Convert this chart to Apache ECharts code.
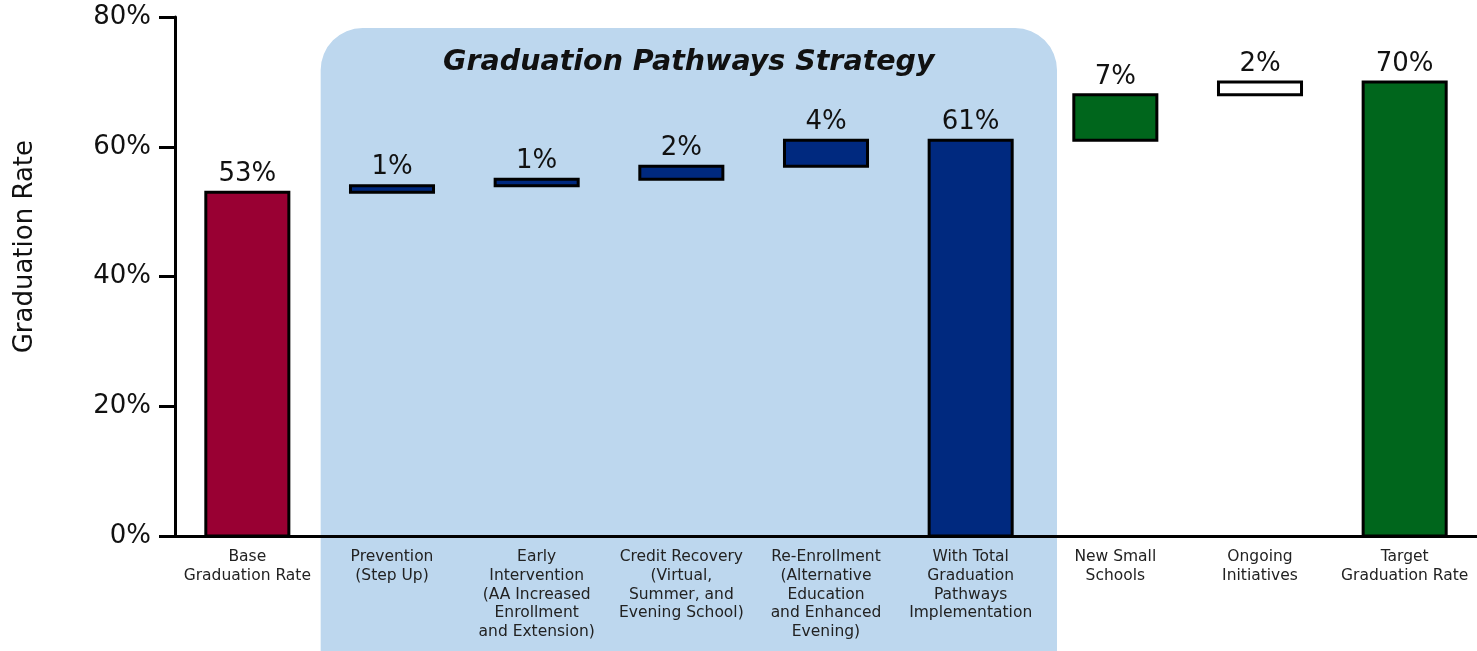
<!DOCTYPE html>
<html>
<head>
<meta charset="utf-8">
<title>Graduation Rate</title>
<script src="https://cdn.jsdelivr.net/npm/echarts@6/dist/echarts.min.js"></script>
<style>
  html, body { margin: 0; padding: 0; background: #ffffff; }
  #chart { width: 1477px; height: 651px; }
</style>
</head>
<body>
<div id="chart"></div>
<script>
// Categories along the x axis (line breaks as shown under each bar)
const categories = [
  'Base\nGraduation Rate',
  'Prevention\n(Step Up)',
  'Early\nIntervention\n(AA Increased\nEnrollment\nand Extension)',
  'Credit Recovery\n(Virtual,\nSummer, and\nEvening School)',
  'Re-Enrollment\n(Alternative\nEducation\nand Enhanced\nEvening)',
  'With Total\nGraduation\nPathways\nImplementation',
  'New Small\nSchools',
  'Ongoing\nInitiatives',
  'Target\nGraduation Rate'
];

// Value of each bar, in percent: totals start at zero, steps add to the running rate
const values = [53, 1, 1, 2, 4, 61, 7, 2, 70];
const kinds = ['total', 'step', 'step', 'step', 'step', 'total', 'step', 'step', 'total'];

// Y axis tick labels
const yTicks = [0, 20, 40, 60, 80];

const groupTitle = 'Graduation Pathways Strategy';
const groupFirst = 1;   // first category inside the strategy panel
const groupLast = 5;    // last category inside the strategy panel

// Fill colours per bar
const fills = ['#990033', '#00297f', '#00297f', '#00297f', '#00297f', '#00297f', '#00661c', '#ffffff', '#00661c'];

// Waterfall rows: [category index, bottom, top, value]
const rows = [];
let running = 0;
values.forEach((v, i) => {
  let lo;
  if (kinds[i] === 'total') { lo = 0; running = v; }
  else { lo = running; running += v; }
  rows.push([i, lo, lo + v, v]);
});

const FONT = 'DejaVu Sans, Verdana, sans-serif';
const BAR_RATIO = 0.574;
const chart = echarts.init(document.getElementById('chart'), null, { renderer: 'canvas' });

// Each bar: a rectangle with a centred black outline and its value above it
function renderBar(params, api) {
  const idx = api.value(0);
  const pLo = api.coord([idx, api.value(1)]);
  const pHi = api.coord([idx, api.value(2)]);
  const w = api.size([1, 0])[0] * BAR_RATIO;
  return {
    type: 'group',
    children: [
      {
        type: 'rect',
        shape: { x: pLo[0] - w / 2, y: pHi[1], width: w, height: pLo[1] - pHi[1] },
        style: { fill: fills[params.dataIndex], stroke: '#000', lineWidth: 3 }
      },
      {
        type: 'text',
        x: pLo[0],
        y: pHi[1] - 5,
        style: {
          text: api.value(3) + '%',
          align: 'center',
          verticalAlign: 'bottom',
          fontFamily: FONT,
          fontSize: 26,
          fill: '#111'
        }
      }
    ]
  };
}

chart.setOption({
  animation: false,
  grid: { left: 175, right: 0, top: 17, bottom: 115, containLabel: false },
  xAxis: {
    type: 'category',
    data: categories,
    axisLine: { lineStyle: { color: '#000', width: 3 } },
    axisTick: { show: false },
    axisLabel: {
      interval: 0,
      margin: 12,
      fontFamily: FONT,
      fontSize: 15.5,
      lineHeight: 18.7,
      color: '#222',
      align: 'center'
    }
  },
  yAxis: {
    type: 'value',
    min: yTicks[0],
    max: yTicks[yTicks.length - 1],
    interval: yTicks[1] - yTicks[0],
    axisLine: { show: true, lineStyle: { color: '#000', width: 3 } },
    axisTick: { show: true, inside: false, length: 16, lineStyle: { color: '#000', width: 3 } },
    splitLine: { show: false },
    axisLabel: {
      margin: 24,
      fontFamily: FONT,
      fontSize: 26,
      color: '#111',
      formatter: v => v + '%'
    }
  },
  series: [
    {
      type: 'custom',
      renderItem: renderBar,
      encode: { x: 0, y: [1, 2] },
      data: rows,
      silent: true,
      z: 3
    }
  ]
});

// Strategy panel and axis title, placed from the axis scales
function drawPanel() {
  const c0 = chart.convertToPixel({ xAxisIndex: 0 }, groupFirst);
  const c1 = chart.convertToPixel({ xAxisIndex: 0 }, groupLast);
  const band = chart.convertToPixel({ xAxisIndex: 0 }, 1) - chart.convertToPixel({ xAxisIndex: 0 }, 0);
  const x0 = c0 - band / 2 + 1;
  const x1 = c1 + band / 2 + 14;
  const yTop = chart.convertToPixel({ yAxisIndex: 0 }, 78.3);
  const yTitle = chart.convertToPixel({ yAxisIndex: 0 }, 72.9);
  const yMid = chart.convertToPixel({ yAxisIndex: 0 }, 44.6);

  chart.setOption({
    graphic: [
      {
        type: 'rect',
        z: -10,
        silent: true,
        shape: { x: x0, y: yTop, width: x1 - x0, height: 700, r: 42 },
        style: { fill: '#bdd7ee' }
      },
      {
        type: 'text',
        z: 10,
        silent: true,
        x: (x0 + x1) / 2,
        y: yTitle,
        style: {
          text: groupTitle,
          align: 'center',
          verticalAlign: 'middle',
          fontFamily: FONT,
          fontSize: 28.5,
          fontWeight: 'bold',
          fontStyle: 'italic',
          fill: '#111'
        }
      },
      {
        type: 'text',
        silent: true,
        x: 25,
        y: yMid,
        rotation: Math.PI / 2,
        style: {
          text: 'Graduation Rate',
          align: 'center',
          verticalAlign: 'middle',
          fontFamily: FONT,
          fontSize: 26,
          fill: '#111'
        }
      }
    ]
  });
}
drawPanel();
</script>
</body>
</html>
